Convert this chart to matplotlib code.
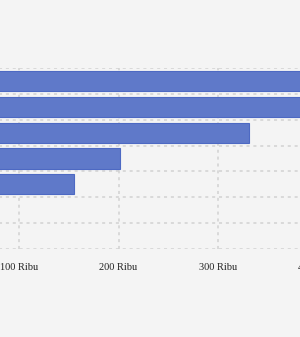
import numpy as np
import matplotlib
matplotlib.use("Agg")
import matplotlib.pyplot as plt

# values in thousands (Ribu); top bar first
categories = ["A", "B", "C", "D", "E", "F", "G"]
values = [460, 430, 331, 202, 155, 0, 0]
tick_values = [0, 100, 200, 300, 400]
tick_labels = ["0", "100 Ribu", "200 Ribu", "300 Ribu", "400 Ribu"]

W, H = 300, 337
fig = plt.figure(figsize=(W / 100, H / 100), dpi=100)
fig.patch.set_facecolor("#f4f4f4")

# axes runs past the picture edges (the reference is a crop)
left_px, right_px = -80.5, 317.5
top_px, bottom_px = 68, 249
ax = fig.add_axes([left_px / W, 1 - bottom_px / H,
                   (right_px - left_px) / W, (bottom_px - top_px) / H])
ax.set_facecolor("#f4f4f4")

n = len(categories)
ypos = np.arange(n)[::-1]
ax.barh(ypos, values, height=0.78, color="#5f79c9", edgecolor="#4d69c3",
        linewidth=0.8, zorder=3)

ax.set_xlim(0, 400)
ax.set_ylim(-0.5, n - 0.5)
ax.set_xticks(tick_values)
ax.set_xticklabels(tick_labels, family="Liberation Serif", fontsize=7.5,
                   color="#222222")
ax.set_yticks(np.arange(n + 1) - 0.5)
ax.set_yticklabels([])
ax.tick_params(length=0, pad=10)
ax.grid(True, color="#d2d2d2", linestyle=(0, (2, 2.5)), linewidth=1.1,
        zorder=0)
for s in ax.spines.values():
    s.set_visible(False)

fig.savefig("out.png", dpi=100, facecolor=fig.get_facecolor())
